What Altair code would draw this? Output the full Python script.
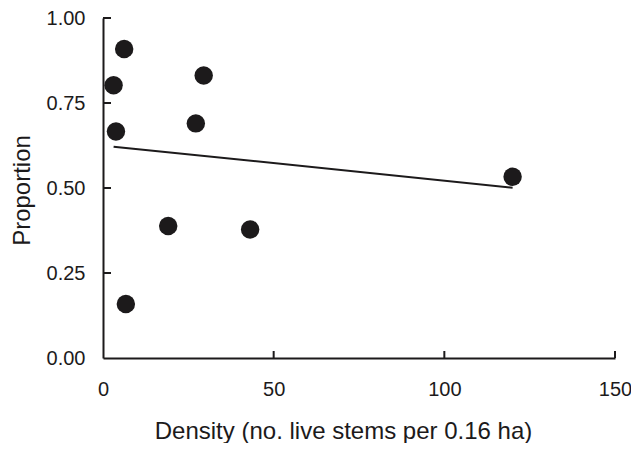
import altair as alt
import pandas as pd

# Data
density = [6.2, 3.1, 3.8, 29.5, 27.2, 19.1, 43.1, 6.7, 120.0]
proportion = [0.909, 0.802, 0.666, 0.831, 0.690, 0.388, 0.378, 0.159, 0.533]
x_ticks = [0, 50, 100, 150]
y_ticks = [0.0, 0.25, 0.5, 0.75, 1.0]

df = pd.DataFrame({"x": density, "y": proportion})
xt = pd.DataFrame({"x": x_ticks})
yt = pd.DataFrame({"y": y_ticks})

FONT = "Liberation Sans"
INK = "#1c1a1b"

xscale = alt.Scale(domain=[0, 150], nice=False, zero=False)
yscale = alt.Scale(domain=[0, 1], nice=False, zero=False)

x_axis = alt.Axis(
    values=x_ticks, ticks=False, grid=False, domainColor=INK, domainWidth=2,
    labelFont=FONT, labelFontSize=20, labelColor=INK, labelPadding=21,
    title="Density (no. live stems per 0.16 ha)", titleFont=FONT,
    titleFontSize=24, titleFontWeight="normal", titleColor=INK,
    titleBaseline="alphabetic", titleY=80, titleX=240, titleAlign="center",
    labelFlush=False,
)
y_axis = alt.Axis(
    values=y_ticks, ticks=False, grid=False, domainColor=INK, domainWidth=2,
    format=".2f", labelFont=FONT, labelFontSize=20, labelColor=INK,
    labelPadding=18, title="Proportion", titleFont=FONT, titleFontSize=24,
    titleFontWeight="normal", titleColor=INK, titleX=-74, titleY=172,
    titleAngle=-90, titleAlign="center", titleBaseline="alphabetic",
    labelFlush=False,
)

X = alt.X("x:Q", scale=xscale, axis=x_axis)
Y = alt.Y("y:Q", scale=yscale, axis=y_axis)

points = alt.Chart(df).mark_circle(size=340, opacity=1, color=INK).encode(
    x=X, y=Y,
)

fit = alt.Chart(df).transform_regression("x", "y").mark_line(
    color=INK, strokeWidth=2
).encode(x=X, y=Y)

ytick_marks = alt.Chart(yt).transform_filter("datum.y > 0").mark_rule(
    color=INK, strokeWidth=2
).encode(
    y=Y,
    x=alt.value(0),
    x2=alt.value(8),
)

xtick_marks = alt.Chart(xt).transform_filter("datum.x > 0").mark_rule(
    color=INK, strokeWidth=2
).encode(
    x=X,
    y=alt.value(340),
    y2=alt.value(333),
)

chart = alt.layer(points, fit, ytick_marks, xtick_marks).properties(
    width=512,
    height=340,
    autosize=alt.AutoSizeParams(type="none"),
    padding={"left": 95, "top": 10, "right": 16, "bottom": 85},
    background="white",
).configure_view(stroke=None)

chart.save("out.html", embed_options={"renderer": "svg", "actions": False})
